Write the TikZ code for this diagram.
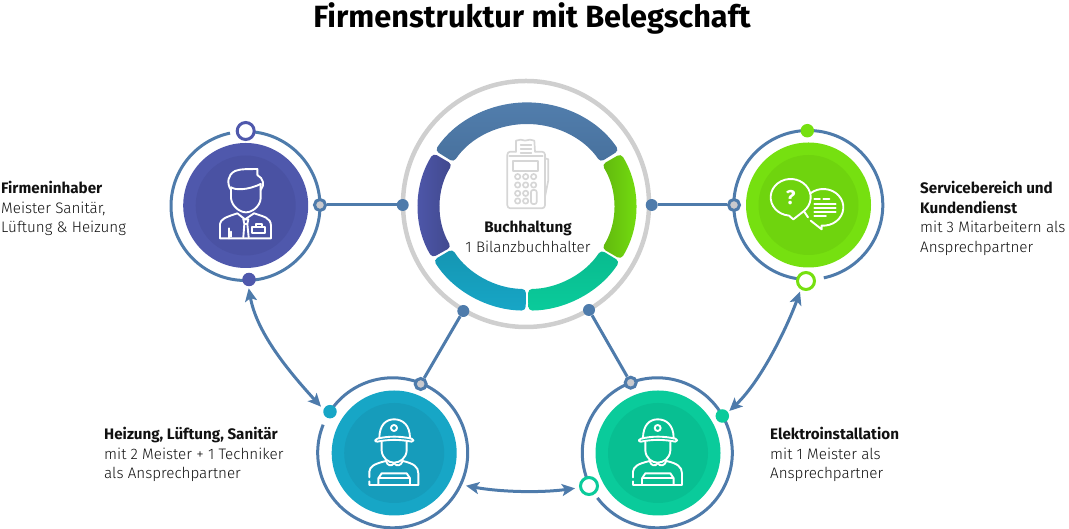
\documentclass[tikz,border=0pt]{standalone}
\usepackage{fontspec}
\setmainfont{Fira Sans Light}[BoldFont={Fira Sans Bold}]
\usetikzlibrary{arrows.meta}
\definecolor{cblue}{HTML}{4E7BAB}
\definecolor{cindigo}{HTML}{4F58AC}
\definecolor{cindigod}{HTML}{4A52A3}
\definecolor{cgreen}{HTML}{76E010}
\definecolor{cgreend}{HTML}{6FD40E}
\definecolor{cteal}{HTML}{17A6C6}
\definecolor{cteald}{HTML}{169CBB}
\definecolor{cmint}{HTML}{0ACB9B}
\definecolor{cmintd}{HTML}{08BF92}
\definecolor{cgray}{HTML}{C9C9CD}
\definecolor{cring}{HTML}{CFCFCF}
\definecolor{cicon}{HTML}{D6D6D6}
\definecolor{ctext}{HTML}{111111}
\tikzset{
  orbit/.style={draw=cblue,line width=3pt},
  dotsmall/.style={circle,inner sep=0pt,minimum size=13.5pt,fill=#1},
  dotopen/.style={circle,inner sep=0pt,minimum size=17pt,fill=white,draw=#1,line width=3pt},
  dotgray/.style={circle,inner sep=0pt,minimum size=11pt,fill=cgray,draw=cblue,line width=3pt},
  dotblue/.style={circle,inner sep=0pt,minimum size=12pt,fill=cblue},
  link/.style={draw=cblue,line width=3pt},
  twoway/.style={draw=cblue,line width=3pt,{Stealth[length=13pt,width=12pt,inset=3pt]}-{Stealth[length=13pt,width=12pt,inset=3pt]}},
  iconline/.style={draw=white,line width=1.9pt,line join=round,line cap=round},
  termline/.style={draw=cicon,line width=1.7pt,line join=round,line cap=round},
  label/.style={anchor=north west,inner sep=0pt,align=left,text=ctext,font=\fontsize{15.2}{19.5}\selectfont},
}
\newcommand{\ringseg}[4]{\path[#4,rounded corners=4pt] (#1:87 and 82.5) arc[start angle=#1,end angle=#2,x radius=87,y radius=82.5] -- (#2:#3 and #3*0.955) arc[start angle=#2,end angle=#1,x radius=#3,y radius=#3*0.955] -- cycle;}
\newcommand{\worker}{%
  \draw[iconline] (238,235) .. controls (238,195) and (258,178) .. (282,178) .. controls (308,178) and (330,195) .. (330,235);
  \draw[iconline] (232,245) .. controls (222,245) and (225,237) .. (232,236) .. controls (265,228) and (300,228) .. (335,236) .. controls (342,238) and (342,245) .. (335,245) .. controls (300,238) and (265,238) .. (232,245) -- cycle;
  \draw[iconline] (282,204) circle[radius=9];
  \draw[iconline] (245,245) -- (245,272) .. controls (247,295) and (265,308) .. (282,308) .. controls (300,308) and (318,295) .. (320,272) -- (320,245);
  \draw[iconline] (208,352) -- (208,335) .. controls (210,320) and (220,312) .. (258,303) .. controls (262,318) and (275,320) .. (282,310) .. controls (290,320) and (303,318) .. (308,303) .. controls (340,310) and (355,320) .. (355,340) -- (355,375) -- (208,375) -- (208,364);
  \draw[iconline] (235,375) -- (235,355) -- (245,340) -- (320,340) -- (330,355) -- (330,375);
  \draw[iconline] (238,353) -- (328,353);
}
\begin{document}
\begin{tikzpicture}[x=1pt,y=1pt]
\useasboundingbox (0,0) rectangle (1069,529);
\begin{scope}[shift={(0,529)},yscale=-1]
% title
\node[inner sep=0pt,text=black,font=\fontsize{30.7}{36}\selectfont\bfseries] (title) at (532,18.5) {Firmenstruktur mit Belegschaft};
% centre ring
\node[circle,inner sep=0pt,minimum size=246pt,draw=cring,line width=4.5pt] (ring) at (526,204) {};
\begin{scope}[shift={(527,206.5)}]
\ringseg{212.5}{327.5}{109}{top color=cblue!98!white,bottom color=cblue!92!black}
\ringseg{150.5}{210.8}{109}{left color=cindigo,right color=cindigo!82!black}
\ringseg{-30.5}{30.5}{109}{right color=cgreen,left color=cgreen!82!black}
\ringseg{90.7}{149}{109}{bottom color=cteal,top color=cteal!90!black}
\ringseg{31.8}{89.3}{109}{bottom color=cmint,top color=cmint!92!black}
\end{scope}
% terminal icon
\begin{scope}[shift={(390,70)},scale=1/3]
\draw[termline,rounded corners=3pt] (378,245) -- (352,245) -- (352,415) -- (465,415) -- (465,245) -- (435,245);
\draw[termline] (378,245) -- (378,212) -- (392,209) -- (405,212) -- (420,209) -- (433,212) -- (435,245);
\draw[termline] (392,225) -- (424,225) (392,237) -- (424,237) (392,248) -- (424,248);
\draw[termline] (358,258) -- (458,258);
\draw[termline] (368,272) rectangle (445,302);
\foreach \px/\py in {383/320,407/320,431/320,383/345,407/345,431/345,383/370,407/370,383/393,407/393}
  \draw[termline] (\px,\py) circle[radius=8];
\draw[termline,rounded corners=2pt] (423,360) rectangle (440,402);
\draw[termline] (465,265) -- (475,268) -- (475,330) -- (465,380);
\end{scope}
\node[inner sep=0pt,text=ctext,font=\fontsize{15.2}{19.5}\selectfont,align=center,anchor=north] (central) at (528,221) {\textbf{Buchhaltung}\\1 Bilanzbuchhalter};
% Firmeninhaber
\node[circle,inner sep=0pt,minimum size=125pt,fill=cindigo] (inh) at (245.7,205.5) {};
\node[circle,inner sep=0pt,minimum size=100pt,fill=cindigod] at (inh) {};
\draw[orbit] (245.5,206) ++(270:74.5) arc[start angle=270,end angle=618,radius=74.5];
\node[dotopen=cindigo] (inhA) at (245.7,131) {};
\node[dotgray] (inhB) at (320,205) {};
\node[dotsmall=cindigo] (inhC) at (249,279.5) {};
\begin{scope}[shift={(150,100)},scale=1/3]
\draw[iconline] (243,270) .. controls (230,250) and (232,225) .. (255,213) .. controls (275,205) and (300,208) .. (322,207) -- (322,225) .. controls (340,235) and (345,255) .. (332,270);
\draw[iconline] (243,262) .. controls (255,270) and (290,272) .. (332,252);
\draw[iconline] (243,262) -- (243,295) .. controls (246,320) and (270,337) .. (288,337) .. controls (306,337) and (330,320) .. (332,295) -- (332,252);
\draw[iconline] (210,415) -- (210,372) .. controls (212,358) and (225,352) .. (262,340) -- (285,358) -- (312,340) .. controls (340,350) and (363,352) .. (363,378) -- (363,415) -- (210,415);
\draw[iconline] (238,415) -- (238,385) (243,395) -- (243,410);
\draw[iconline] (280,358) -- (295,358) -- (292,372) -- (296,412) (283,372) -- (280,412) (280,358) -- (283,372) -- (292,372);
\draw[iconline] (307,380) rectangle (345,400);
\draw[iconline] (317,380) -- (317,371) -- (335,371) -- (335,380);
\end{scope}
% Service
\node[circle,inner sep=0pt,minimum size=125pt,fill=cgreen] (srv) at (808.5,205) {};
\node[circle,inner sep=0pt,minimum size=100pt,fill=cgreend] at (srv) {};
\draw[orbit] (808.3,205) ++(92:74.5) arc[start angle=92,end angle=438,radius=74.5];
\node[dotsmall=cgreen] (srvA) at (807.3,130.7) {};
\node[dotgray] (srvB) at (734,205) {};
\node[dotopen=cgreen] (srvC) at (806,281) {};
\begin{scope}[shift={(720,110)},scale=1/3]
\draw[iconline] (212,262) ++(50:60 and 55) arc[start angle=50,end angle=-265,x radius=60,y radius=55] -- (220,328) -- cycle;
\draw[iconline] (310,292) ++(230:60 and 55) arc[start angle=230,end angle=455,x radius=60,y radius=55] -- (305,358) -- (272,332);
\draw[iconline] (252,304) -- (264,322);
\draw[iconline] (283,268) -- (300,268) (310,268) -- (328,268) (283,283) -- (347,283) (283,295) -- (347,295) (283,307) -- (347,307) (283,318) -- (318,318);
\node[inner sep=0pt,text=white,font=\fontsize{20}{20}\selectfont\bfseries] (qm) at (212,264) {?};
\end{scope}
% Heizung
\node[circle,inner sep=0pt,minimum size=125pt,fill=cteal] (hzg) at (394.2,453) {};
\node[circle,inner sep=0pt,minimum size=100pt,fill=cteald] at (hzg) {};
\draw[orbit] (392.7,452.8) ++(213:75) arc[start angle=213,end angle=562,radius=75];
\node[dotsmall=cteal] (hzgA) at (330,411.7) {};
\node[dotgray] (hzgB) at (420.7,384) {};
\coordinate (hzgC) at (466,485.7);
\begin{scope}[shift={(300,360)},scale=1/3]
\worker
\end{scope}
% Elektro
\node[circle,inner sep=0pt,minimum size=125pt,fill=cmint] (elk) at (658,453) {};
\node[circle,inner sep=0pt,minimum size=100pt,fill=cmintd] at (elk) {};
\draw[orbit] (657.3,452.8) ++(154:75) arc[start angle=154,end angle=503,radius=75];
\node[dotsmall=cmint] (elkA) at (722.3,416) {};
\node[dotgray] (elkB) at (630.7,382.7) {};
\node[dotopen=cmint] (elkC) at (589,486) {};
\begin{scope}[shift={(563.67,360)},scale=1/3]
\worker
\end{scope}
% connector dots
\node[dotblue] (pL) at (402.7,205) {};
\node[dotblue] (pR) at (651.7,205) {};
\node[dotblue] (pBL) at (463.3,311) {};
\node[dotblue] (pBR) at (589,310) {};
\draw[link] (inhB) -- (pL);
\draw[link] (srvB) -- (pR);
\draw[link] (hzgB) -- (pBL);
\draw[link] (elkB) -- (pBR);
% two-way arrows
\coordinate (a1s) at (248.7,288.3);
\coordinate (a1e) at (321,406.7);
\draw[twoway] (a1s) .. controls (256,328) and (280,362) .. (a1e);
\coordinate (a2s) at (800,291.7);
\coordinate (a2e) at (729.3,411);
\draw[twoway] (a2s) .. controls (788,325) and (762,380) .. (a2e);
\coordinate (a3e) at (575,488.3);
\draw[twoway] (hzgC) .. controls (500,492) and (540,493) .. (a3e);
% labels
\node[label] (t1) at (1,181) {\textbf{Firmeninhaber}\\Meister Sanitär,\\Lüftung \& Heizung};
\node[label] (t2) at (104,427) {\textbf{Heizung, Lüftung, Sanitär}\\mit 2 Meister + 1 Techniker\\als Ansprechpartner};
\node[label] (t3) at (770,427) {\textbf{Elektroinstallation}\\mit 1 Meister als\\Ansprechpartner};
\node[label] (t4) at (920,181) {\textbf{Servicebereich und}\\\textbf{Kundendienst}\\mit 3 Mitarbeitern als\\Ansprechpartner};
\end{scope}
\end{tikzpicture}
\end{document}
